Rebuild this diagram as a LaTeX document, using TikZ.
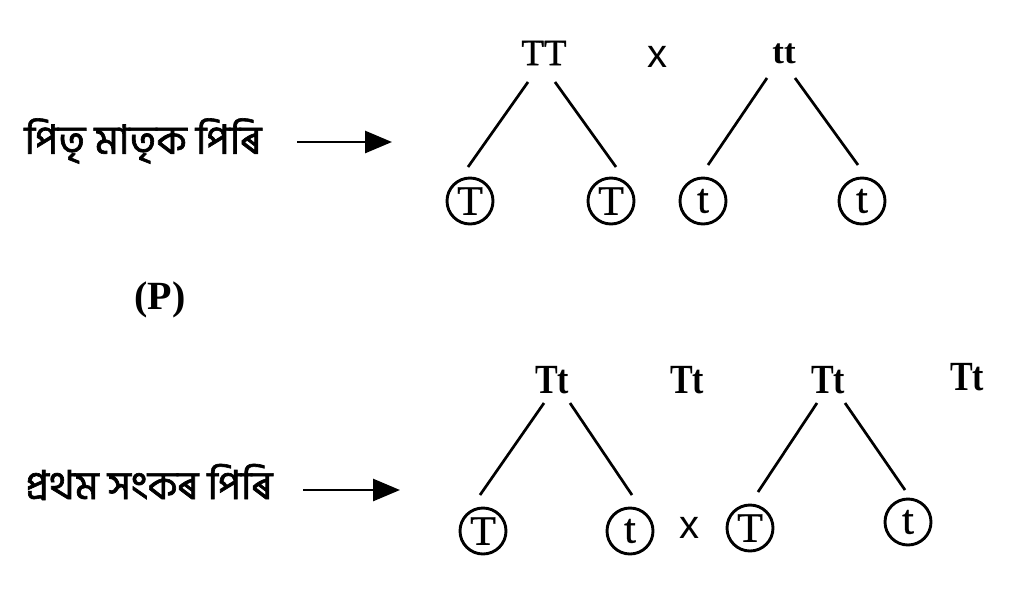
\documentclass[tikz,border=0pt]{standalone}
\usepackage{fontspec}
\setmainfont{Liberation Serif}
\newfontfamily\serifh[FakeBold=0.9]{Liberation Serif}
\newfontfamily\bn[Script=Bengali,FakeBold=1.6]{Hind Siliguri}
\newfontfamily\sansx{Liberation Sans}
\usetikzlibrary{arrows.meta}
\begin{document}
\begin{tikzpicture}[x=1pt,y=-1pt,
  gene/.style={circle,draw,line width=2.9pt,minimum size=46pt,inner sep=0pt,
    font=\fontsize{42}{42}\selectfont\serifh},
  topg/.style={inner sep=0pt,font=\fontsize{37}{37}\selectfont\serifh},
  topgb/.style={inner sep=0pt,font=\fontsize{35}{35}\selectfont\bfseries},
  botg/.style={inner sep=0pt,font=\fontsize{34}{34}\selectfont\bfseries},
  cross/.style={inner sep=0pt,font=\fontsize{40}{40}\selectfont\sansx},
  lbl/.style={inner sep=0pt,font=\bn\fontsize{34}{34}\selectfont},
  branch/.style={line width=2.7pt},
  arr/.style={line width=2.8pt,-{Triangle[length=27pt,width=22pt]}}]
\useasboundingbox (0,0) rectangle (1024,590);
\fill[white] (0,0) rectangle (1024,590);

% labels
\node[lbl] (l1) at (143,141) {\resizebox{237pt}{!}{পিতৃ মাতৃক পিৰি}};
\node[lbl] (l2) at (149,482) {\resizebox{247pt}{!}{প্ৰথম সংকৰ পিৰি}};
\coordinate (a1s) at (297,142);
\coordinate (a1e) at (392,142);
\coordinate (a2s) at (303,490);
\coordinate (a2e) at (400,490);
\draw[arr] (a1s) -- (a1e);
\draw[arr] (a2s) -- (a2e);

\node[inner sep=0pt,font=\fontsize{40}{40}\selectfont\bfseries] (P) at (160,300) {(P)};

% parental
\node[topg] (TT) at (544,53) {TT};
\node[cross] (x1) at (657,57) {x};
\node[topgb] (tt) at (784,54) {tt};
\node[gene] (g1) at (470,201) {T};
\node[gene] (g2) at (611,201) {T};
\node[gene] (g3) at (703,201) {t};
\node[gene] (g4) at (862,201) {t};
\coordinate (b1a) at (528,82); \coordinate (b1b) at (468,167);
\coordinate (b2a) at (555,82); \coordinate (b2b) at (616,167);
\coordinate (b3a) at (767,78); \coordinate (b3b) at (708,165);
\coordinate (b4a) at (795,78); \coordinate (b4b) at (858,165);
\draw[branch] (b1a) -- (b1b);
\draw[branch] (b2a) -- (b2b);
\draw[branch] (b3a) -- (b3b);
\draw[branch] (b4a) -- (b4b);

% F1
\node[botg] (F1) at (552,380) {\scalebox{1}[1.22]{Tt}};
\node[botg] (F2) at (687,380) {\scalebox{1}[1.22]{Tt}};
\node[botg] (F3) at (828,380) {\scalebox{1}[1.22]{Tt}};
\node[botg] (F4) at (967,377) {\scalebox{1}[1.22]{Tt}};
\node[gene] (h1) at (483,531) {T};
\node[gene] (h2) at (630,531) {t};
\node[cross] (x2) at (689,528) {x};
\node[gene] (h3) at (750,528) {T};
\node[gene] (h4) at (908,522) {t};
\coordinate (c1a) at (544,403); \coordinate (c1b) at (480,495);
\coordinate (c2a) at (570,403); \coordinate (c2b) at (632,495);
\coordinate (c3a) at (817,403); \coordinate (c3b) at (758,492);
\coordinate (c4a) at (845,403); \coordinate (c4b) at (905,490);
\draw[branch] (c1a) -- (c1b);
\draw[branch] (c2a) -- (c2b);
\draw[branch] (c3a) -- (c3b);
\draw[branch] (c4a) -- (c4b);
\end{tikzpicture}
\end{document}
